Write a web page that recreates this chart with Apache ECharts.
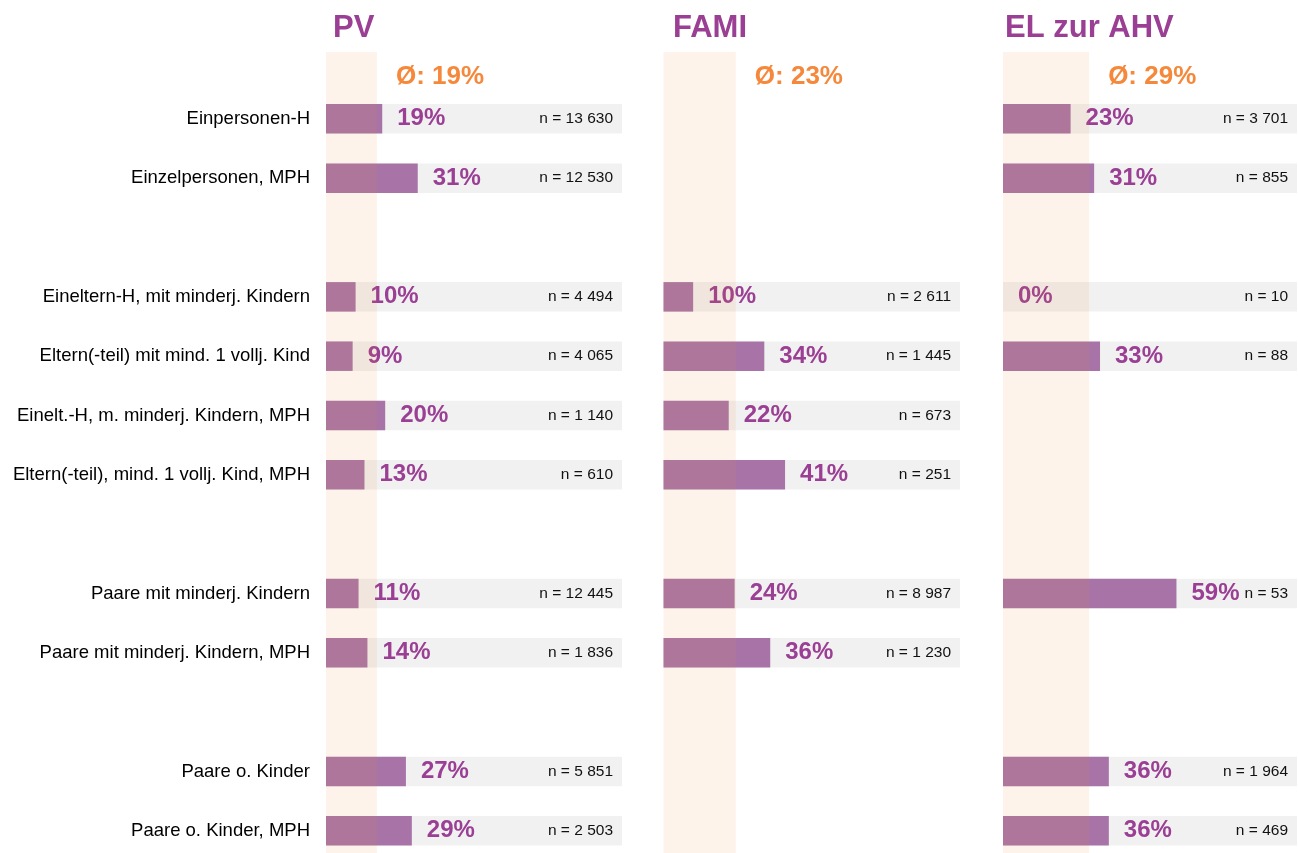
<!DOCTYPE html>
<html>
<head>
<meta charset="utf-8">
<script src="https://cdn.jsdelivr.net/npm/echarts@6/dist/echarts.min.js"></script>
<style>html,body{margin:0;padding:0;background:#fff;}#c{width:1298px;height:853px;}</style>
</head>
<body>
<div id="c"></div>
<script>
// ---- data ----
const categories = [
  'Einpersonen-H',
  'Einzelpersonen, MPH',
  ' ',
  'Eineltern-H, mit minderj. Kindern',
  'Eltern(-teil) mit mind. 1 vollj. Kind',
  'Einelt.-H, m. minderj. Kindern, MPH',
  'Eltern(-teil), mind. 1 vollj. Kind, MPH',
  '  ',
  'Paare mit minderj. Kindern',
  'Paare mit minderj. Kindern, MPH',
  '   ',
  'Paare o. Kinder',
  'Paare o. Kinder, MPH'
];
const panelTitles = ['PV', 'FAMI', 'EL zur AHV'];
const pvValues   = [19, 31, null, 10, 9, 20, 13, null, 11, 14, null, 27, 29];
const famiValues = [null, null, null, 10, 34, 22, 41, null, 24, 36, null, null, null];
const elValues   = [23, 31, null, 0, 33, null, null, null, 59, null, null, 36, 36];
const pvN   = ['13 630', '12 530', null, '4 494', '4 065', '1 140', '610', null, '12 445', '1 836', null, '5 851', '2 503'];
const famiN = [null, null, null, '2 611', '1 445', '673', '251', null, '8 987', '1 230', null, null, null];
const elN   = ['3 701', '855', null, '10', '88', null, null, null, '53', null, null, '1 964', '469'];
const avgValues  = [19, 23, 29];
const bandValues = [17.2, 24.4, 29.3];

const valuesList = [pvValues, famiValues, elValues];
const nList = [pvN, famiN, elN];

// ---- layout ----
const lefts = [326, 663.5, 1003];
const widths = [296, 296.5, 294];
const titleLefts = [328, 668, 1000];
const FONT = 'Liberation Sans, Arial, Helvetica, sans-serif';
const PURPLE = '#9a3f94';
const ORANGE = '#f5883a';

const grid = [], xAxis = [], yAxis = [], series = [], title = [];
for (let i = 0; i < 3; i++) {
  const gBar = i * 2, gBand = i * 2 + 1;
  grid.push({left: lefts[i], width: widths[i], top: 89.2, height: 771.3, containLabel: false, outerBoundsMode: 'none'});
  grid.push({left: lefts[i], width: widths[i], top: 52, bottom: 0, containLabel: false, outerBoundsMode: 'none'});
  xAxis.push({type: 'value', min: 0, max: 100, gridIndex: gBar, show: false});
  xAxis.push({type: 'value', min: 0, max: 100, gridIndex: gBand, show: false});
  yAxis.push({
    type: 'category', data: categories, inverse: true, gridIndex: gBar,
    axisLine: {show: false}, axisTick: {show: false}, splitLine: {show: false},
    axisLabel: {show: i === 0, fontSize: 18.5, color: '#000', margin: 16, fontFamily: FONT}
  });
  yAxis.push({type: 'category', data: ['avg'], gridIndex: gBand, show: false});

  const vals = valuesList[i], ns = nList[i];
  series.push({
    type: 'bar', xAxisIndex: gBar, yAxisIndex: gBar, z: 1, silent: true,
    data: vals.map(v => v == null ? null : 100),
    barWidth: 29.5, barGap: '-100%',
    itemStyle: {color: '#f1f1f1'},
    label: {
      show: true, position: 'insideRight', distance: 9,
      formatter: p => 'n = ' + ns[p.dataIndex],
      fontSize: 15.5, color: '#111', fontFamily: FONT
    }
  });
  series.push({
    type: 'bar', xAxisIndex: gBar, yAxisIndex: gBar, z: 2, silent: true,
    data: vals, barWidth: 29.5, barGap: '-100%',
    itemStyle: {color: '#a874a8'},
    label: {
      show: true, position: 'right', distance: 15,
      formatter: p => p.value + '%',
      fontSize: 24, fontWeight: 'bold', color: PURPLE, fontFamily: FONT
    }
  });
  series.push({
    type: 'bar', xAxisIndex: gBand, yAxisIndex: gBand, z: 5, silent: true,
    data: [bandValues[i]], barWidth: '100%',
    itemStyle: {color: 'rgba(235,135,45,0.1)'},
    label: {
      show: true, position: ['100%', 24.5], offset: [19, 0],
      align: 'left', verticalAlign: 'middle',
      formatter: () => 'Ø: ' + avgValues[i] + '%',
      fontSize: 26, fontWeight: 'bold', color: ORANGE, fontFamily: FONT
    }
  });
  title.push({
    text: panelTitles[i], left: titleLefts[i], top: 8,
    textStyle: {fontSize: 31, fontWeight: 'bold', color: PURPLE, fontFamily: FONT}
  });
}

const chart = echarts.init(document.getElementById('c'));
chart.setOption({
  animation: false,
  backgroundColor: '#fff',
  textStyle: {fontFamily: FONT},
  title, grid, xAxis, yAxis, series
});
</script>
</body>
</html>
